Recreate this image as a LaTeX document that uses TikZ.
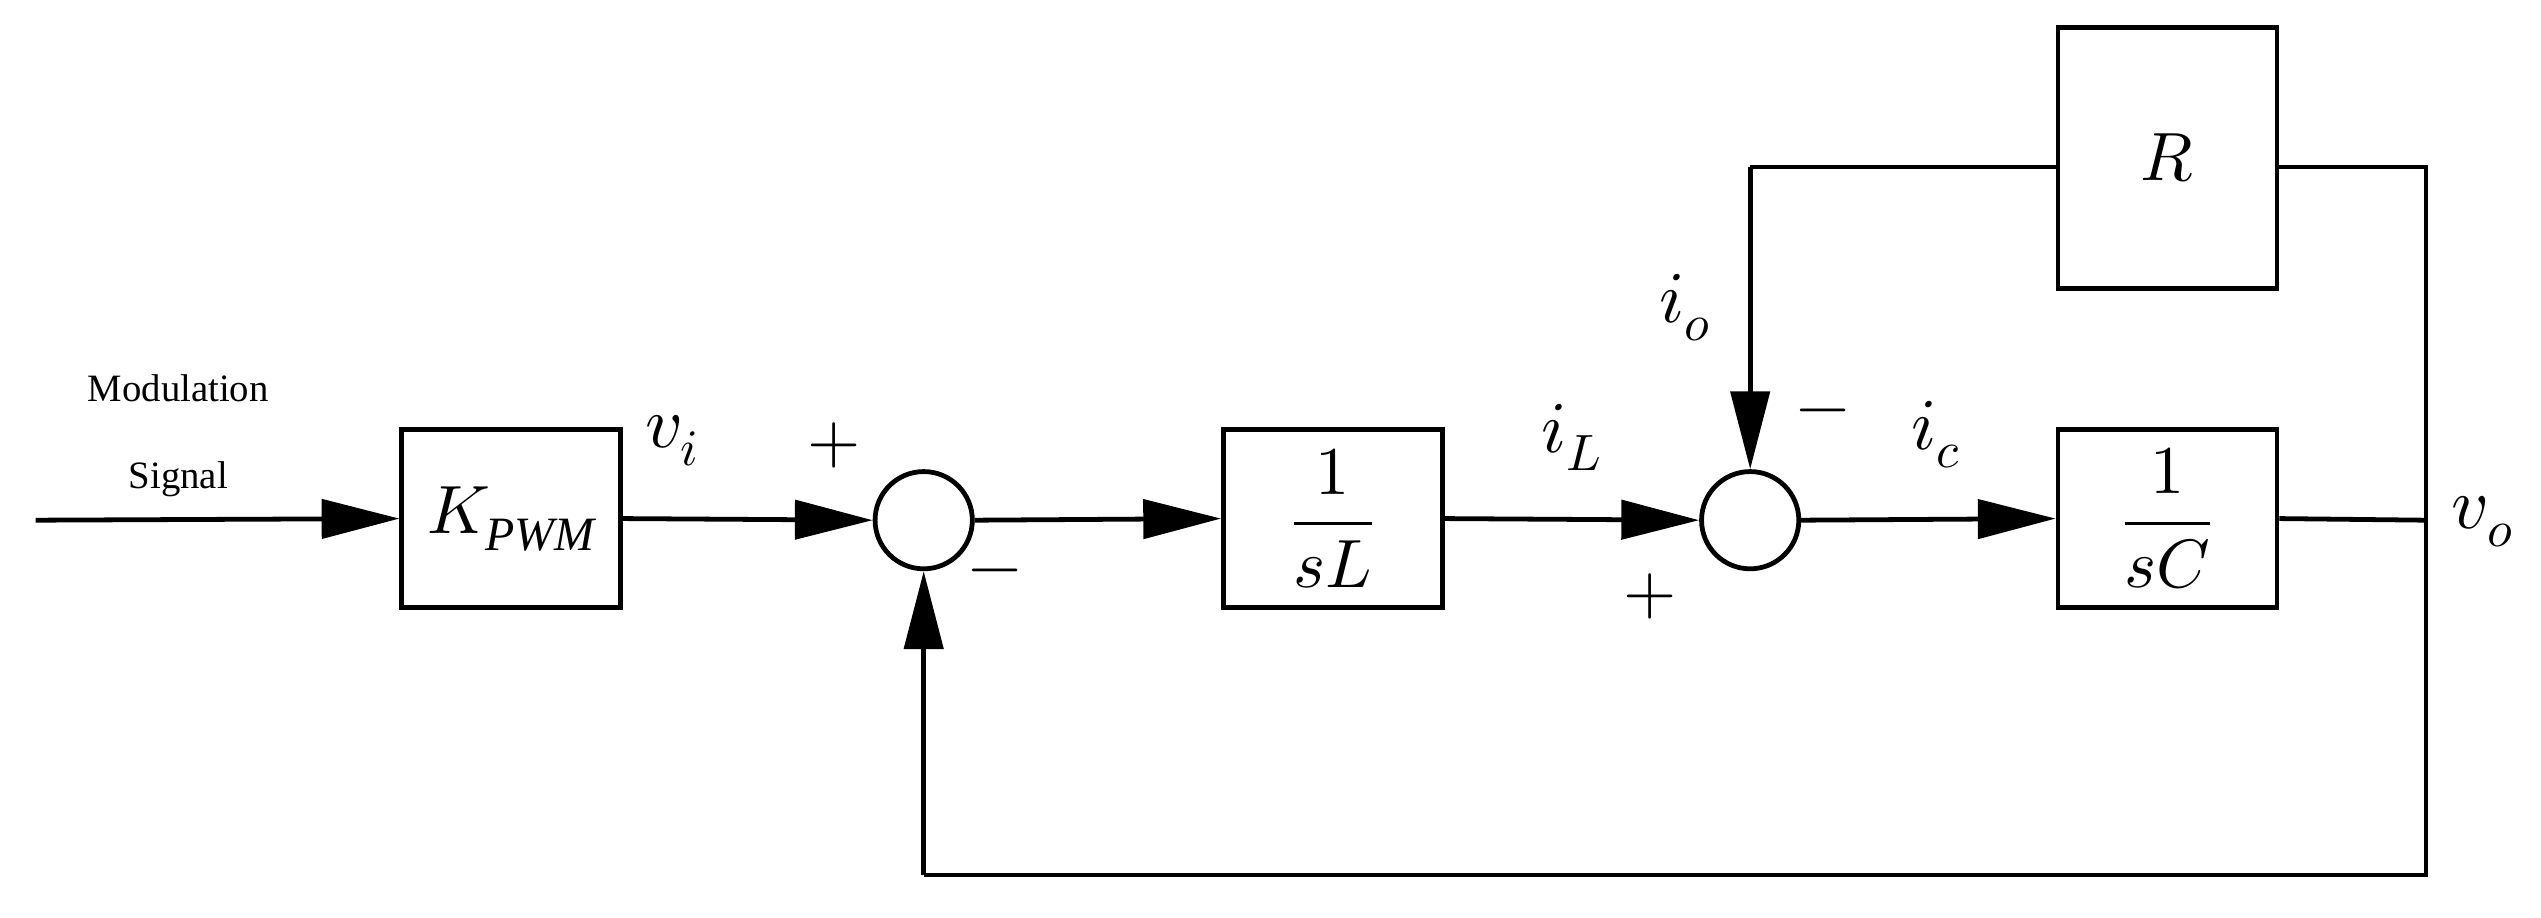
\documentclass[tikz,border=0pt]{standalone}
\usepackage{fontspec}
\setmainfont{Liberation Serif}
\usepackage{unicode-math}
\setmathfont{Latin Modern Math}
\usetikzlibrary{arrows.meta}
\begin{document}
\begin{tikzpicture}[x=0.025cm,y=-0.025cm,
  ln/.style={line width=2.1pt},
  ar/.style={ln,-{Triangle[length=1.2cm,width=0.6cm]}},
  box/.style={draw,line width=2.1pt,minimum width=3.375cm,minimum height=2.75cm,inner sep=0pt,font=\fontsize{30}{36}\selectfont},
  sum/.style={draw,circle,line width=2.1pt,minimum size=1.5cm,inner sep=0pt},
  lab/.style={font=\fontsize{32}{38}\selectfont},
  sg/.style={font=\fontsize{30}{36}\selectfont}]
\useasboundingbox (0,0) rectangle (1568,566);
\coordinate (in) at (22,321);
\node[box] (k) at (315.5,320) {$K_{\mathit{PWM}}$};
\node[sum] (s1) at (570,321) {};
\node[box] (l) at (822.5,320) {$\dfrac{1}{sL}$};
\node[sum] (s2) at (1080,321) {};
\node[box] (c) at (1337.5,320) {$\dfrac{1}{sC}$};
\node[box,minimum height=4.025cm] (r) at (1337.5,97.5) {$R$};
\coordinate (vo) at (1497,321);
\coordinate (tr) at (1497,103);
\coordinate (br) at (1497,540);
\coordinate (bl) at (570,540);
\coordinate (tl) at (1080,103);
\node[align=center,font=\fontsize{17}{38}\selectfont] at (110,269) {Modulation\\Signal};
\draw[ar] (in) -- (k.west);
\draw[ar] (k.east) -- (s1.west);
\draw[ar] (s1.east) -- (l.west);
\draw[ar] (l.east) -- (s2.west);
\draw[ar] (s2.east) -- (c.west);
\draw[ln] (c.east) -- (vo);
\draw[ln] (r.east |- tr) -- (tr) -- (br) -- (bl);
\draw[ar] (bl) -- (s1.south);
\draw[ln] (r.west |- tl) -- (tl);
\draw[ar] (tl) -- (s2.north);
\node[lab] at (415,272) {$v_i$};
\node[lab] at (970,270) {$i_L$};
\node[lab] at (1040,190) {$i_o$};
\node[lab] at (1195,268) {$i_c$};
\node[lab] at (1532,322) {$v_o$};
\node[sg] at (515,275) {$+$};
\node[sg] at (614,357) {$-$};
\node[sg] at (1018,368) {$+$};
\node[sg] at (1125,258) {$-$};
\end{tikzpicture}
\end{document}
